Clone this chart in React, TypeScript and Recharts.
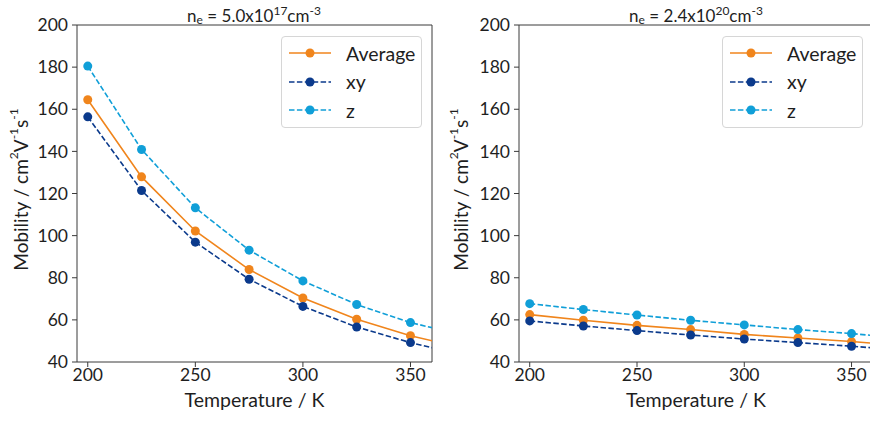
import React from 'react';
import { LineChart, Line, XAxis, YAxis, Legend, ReferenceLine } from 'recharts';

const temps = [200, 225, 250, 275, 300, 325, 350, 375];
const leftAvg = [164.5, 127.9, 102.2, 83.9, 70.4, 60.3, 52.5, 46.5];
const leftXy = [156.4, 121.4, 96.9, 79.3, 66.4, 56.6, 49.2, 43.2];
const leftZ = [180.5, 140.9, 113.2, 93.1, 78.5, 67.3, 58.7, 52.7];
const rightAvg = [62.5, 59.8, 57.4, 55.4, 53.1, 51.4, 49.7, 47.7];
const rightXy = [59.5, 57.1, 54.9, 52.8, 50.9, 49.2, 47.5, 45.5];
const rightZ = [67.7, 64.9, 62.3, 59.8, 57.6, 55.4, 53.5, 51.2];
const xTicks = [200, 250, 300, 350];
const yTicks = [40, 60, 80, 100, 120, 140, 160, 180, 200];
const seriesNames = ['Average', 'xy', 'z'];

const COLORS = { Average: '#f0851c', xy: '#0b3a8c', z: '#109fd8' };
const DASH: Record<string, string | undefined> = { Average: undefined, xy: '5.5 2.4', z: '5.5 2.4' };
const FONT = 'Lato, "DejaVu Sans", sans-serif';
const AXIS = '#3a3a3a';
const WEIGHT = 400;
const TXT = '#1e1e1e';

const build = (a: number[], b: number[], c: number[]) =>
  temps.map((t, i) => ({ T: t, Average: a[i], xy: b[i], z: c[i] }));

const leftData = build(leftAvg, leftXy, leftZ);
const rightData = build(rightAvg, rightXy, rightZ);

const YLabel = (props: any) => {
  const vb = props.viewBox || { x: 0, y: 25, width: 77, height: 337 };
  const cx = 20;
  const cy = vb.y + vb.height / 2 - 4;
  return (
    <text
      x={cx}
      y={cy}
      transform={`rotate(-90 ${cx} ${cy})`}
      textAnchor="middle"
      dominantBaseline="central"
      fontFamily={FONT}
      fontWeight={WEIGHT}
      fontSize={19}
      fill={TXT}
    >
      <tspan>Mobility / cm</tspan>
      <tspan fontSize={12} dy={-7}>2</tspan>
      <tspan dy={7}>V</tspan>
      <tspan fontSize={12} dy={-7}>-1</tspan>
      <tspan dy={7}>s</tspan>
      <tspan fontSize={12} dy={-7}>-1</tspan>
    </text>
  );
};

const XLabel = (props: any) => {
  const vb = props.viewBox || { x: 77, y: 362, width: 354, height: 59 };
  return (
    <text
      x={vb.x + vb.width / 2}
      y={407}
      textAnchor="middle"
      fontFamily={FONT}
      fontWeight={WEIGHT}
      fontSize={19.5}
      fill={TXT}
    >
      Temperature / K
    </text>
  );
};

const renderLegend = () => (
  <div
    style={{
      width: 141,
      height: 92,
      border: '1px solid #d6d6d6',
      borderRadius: 4,
      background: 'rgba(255,255,255,0.85)',
      fontFamily: FONT,
      fontWeight: WEIGHT,
      fontSize: 19.5,
      color: TXT,
      boxSizing: 'border-box',
      paddingTop: 2,
    }}
  >
    {seriesNames.map((n) => (
      <div key={n} style={{ display: 'flex', alignItems: 'center', height: 28.5 }}>
        <svg width={60} height={20} style={{ marginLeft: 4 }}>
          <line
            x1={3}
            x2={45}
            y1={10}
            y2={10}
            stroke={(COLORS as any)[n]}
            strokeWidth={1.6}
            strokeDasharray={DASH[n]}
          />
          <circle cx={24} cy={10} r={4.5} fill={(COLORS as any)[n]} />
        </svg>
        <span>{n}</span>
      </div>
    ))}
  </div>
);

const Panel = ({ data, yWidth, width }: { data: any[]; yWidth: number; width: number }) => {
  const plotRight = width - 8;
  return (
    <LineChart
      width={width}
      height={421}
      data={data}
      margin={{ top: 25, right: 8, left: 0, bottom: 0 }}
      style={{ fontFamily: FONT }}
    >
      <XAxis
        dataKey="T"
        type="number"
        domain={[195, 360]}
        allowDataOverflow
        ticks={xTicks}
        height={59}
        tickSize={5}
        tickMargin={2}
        stroke={AXIS}
        tick={{ fill: TXT, fontSize: 17.5, fontFamily: FONT, fontWeight: WEIGHT }}
        label={<XLabel />}
      />
      <YAxis
        type="number"
        domain={[40, 200]}
        allowDataOverflow
        ticks={yTicks}
        width={yWidth}
        tickSize={5}
        tickMargin={4}
        stroke={AXIS}
        tick={{ fill: TXT, fontSize: 17.5, fontFamily: FONT, fontWeight: WEIGHT }}
        label={<YLabel />}
      />
      <ReferenceLine y={200} stroke={AXIS} strokeWidth={1} />
      <ReferenceLine x={360} stroke={AXIS} strokeWidth={1} />
      {seriesNames.map((n) => (
        <Line
          key={n}
          dataKey={n}
          name={n}
          stroke={(COLORS as any)[n]}
          strokeWidth={1.6}
          strokeDasharray={DASH[n]}
          dot={{ r: 4.5, fill: (COLORS as any)[n], stroke: 'none', strokeDasharray: '' }}
          activeDot={false}
          isAnimationActive={false}
        />
      ))}
      <Legend
        layout="vertical"
        align="center"
        verticalAlign="middle"
        content={renderLegend}
        wrapperStyle={{ position: 'absolute', top: 36, left: plotRight - 10 - 141, width: 141, height: 92 }}
      />
    </LineChart>
  );
};

const Title = ({ left, mant, exp }: { left: number; mant: string; exp: string }) => (
  <div
    style={{
      position: 'absolute',
      left: left - 150,
      width: 300,
      top: 0,
      textAlign: 'center',
      fontFamily: FONT,
      fontWeight: WEIGHT,
      fontSize: 17,
      color: TXT,
      lineHeight: '22px',
    }}
  >
    n<sub style={{ fontSize: 12, verticalAlign: '-2px' }}>e</sub> = {mant}x10<sup style={{ fontSize: 12 }}>{exp}</sup>cm<sup style={{ fontSize: 12 }}>-3</sup>
  </div>
);

export default function App() {
  return (
    <div style={{ position: 'absolute', left: 0, top: 0, width: 870, height: 421, background: '#fff', overflow: 'hidden' }}>
      <div style={{ position: 'absolute', left: 0, top: 0 }}>
        <Panel data={leftData} yWidth={77} width={440} />
      </div>
      <div style={{ position: 'absolute', left: 440, top: 0 }}>
        <Panel data={rightData} yWidth={79} width={441} />
      </div>
      <Title left={254} mant="5.0" exp="17" />
      <Title left={696} mant="2.4" exp="20" />
    </div>
  );
}
